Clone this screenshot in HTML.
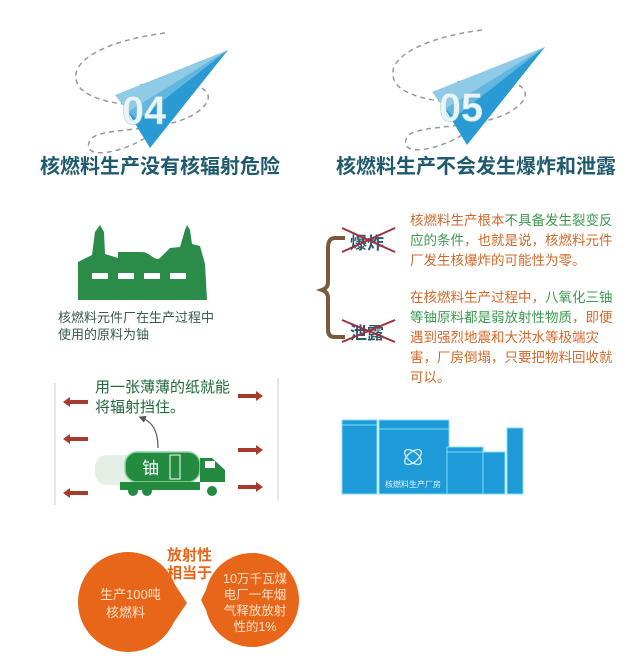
<!DOCTYPE html><html><head><meta charset="utf-8"><style>
body{margin:0;background:#fff;width:640px;height:655px;overflow:hidden;font-family:"Liberation Sans","Noto Sans CJK SC",sans-serif}
</style></head><body>
<svg width="640" height="655" viewBox="0 0 640 655" xmlns="http://www.w3.org/2000/svg" style="font-family:'Liberation Sans','Noto Sans CJK SC',sans-serif">
<defs><marker id="ar" markerWidth="6" markerHeight="6" refX="3" refY="3" orient="auto"><path d="M0,0L6,3L0,6z" fill="#555"/></marker></defs>
<g>
<path d="M165,33 C110,40 65,60 78,85 C90,105 150,110 175,100" fill="none" stroke="#999" stroke-width="1.5" stroke-dasharray="5,4"/>
<path d="M140,85 C190,75 225,90 200,110 C170,135 100,125 90,140 C80,160 120,155 150,135" fill="none" stroke="#999" stroke-width="1.5" stroke-dasharray="5,4"/>
<polygon points="115,95 228,50 128,112" fill="#8fcbe6"/>
<polygon points="128,112 228,50 150,148" fill="#2a9ad4"/>
<polygon points="128,112 228,50 138,120" fill="#62b6df"/>
<text x="122" y="124" font-size="40" font-weight="bold" fill="#e9f4f8" stroke="#9cc" stroke-width="0.5" textLength="44" lengthAdjust="spacingAndGlyphs">04</text>
</g>
<g transform="translate(317,-3)">
<path d="M165,33 C110,40 65,60 78,85 C90,105 150,110 175,100" fill="none" stroke="#999" stroke-width="1.5" stroke-dasharray="5,4"/>
<path d="M140,85 C190,75 225,90 200,110 C170,135 100,125 90,140 C80,160 120,155 150,135" fill="none" stroke="#999" stroke-width="1.5" stroke-dasharray="5,4"/>
<polygon points="115,95 228,50 128,112" fill="#8fcbe6"/>
<polygon points="128,112 228,50 150,148" fill="#2a9ad4"/>
<polygon points="128,112 228,50 138,120" fill="#62b6df"/>
<text x="122" y="124" font-size="40" font-weight="bold" fill="#e9f4f8" stroke="#9cc" stroke-width="0.5" textLength="44" lengthAdjust="spacingAndGlyphs">05</text>
</g>
<text x="40" y="173" font-size="20" font-weight="bold" fill="#1f5a6e">核燃料生产没有核辐射危险</text>
<text x="336" y="173" font-size="20" font-weight="bold" fill="#1f5a6e">核燃料生产不会发生爆炸和泄露</text>
<path d="M78,300 L78,262 L92,255 L95,232 L100,225 L104,232 L105,254 L118,258 L118,252 L142,252 C150,252 155,262 160,258 L170,248 L180,247 L185,230 L187,225 L190,230 L192,244 L200,246 L205,264 L207,300 Z" fill="#2a8c48"/>
<rect x="92" y="273" width="16" height="6" fill="#fff"/><rect x="118" y="273" width="16" height="6" fill="#fff"/><rect x="144" y="273" width="16" height="6" fill="#fff"/><rect x="170" y="273" width="16" height="6" fill="#fff"/>
<text x="58" y="322" font-size="13" fill="#3a5a4a">核燃料元件厂在生产过程中</text>
<text x="58" y="339" font-size="13" fill="#3a5a4a">使用的原料为铀</text>
<line x1="55" y1="383" x2="55" y2="505" stroke="#ccc"/><line x1="278" y1="378" x2="278" y2="500" stroke="#ccc"/>
<text x="95" y="392" font-size="15" fill="#1e6a3a">用一张薄薄的纸就能</text>
<text x="95" y="412" font-size="15" fill="#1e6a3a">将辐射挡住。</text>
<g fill="#a83a2c">
<rect x="68" y="400" width="20" height="4"/><polygon points="63,402 70,397 70,407"/>
<rect x="68" y="437" width="20" height="4"/><polygon points="63,439 70,434 70,444"/>
<rect x="68" y="491" width="20" height="4"/><polygon points="63,493 70,488 70,498"/>
<rect x="238" y="394" width="20" height="4"/><polygon points="263,396 256,391 256,401"/>
<rect x="238" y="448" width="20" height="4"/><polygon points="263,450 256,445 256,455"/>
<rect x="238" y="485" width="20" height="4"/><polygon points="263,487 256,482 256,492"/>
</g>
<path d="M158,448 C158,430 152,422 142,418" fill="none" stroke="#555" stroke-width="1.2" marker-end="url(#ar)"/>
<rect x="95" y="455" width="50" height="30" rx="12" fill="#e4efe6"/>
<rect x="125" y="452" width="75" height="30" rx="12" fill="#238a40" stroke="#8ed9a0" stroke-width="1.5"/>
<text x="142" y="474" font-size="17" fill="#fff">铀</text>
<rect x="170" y="455" width="10" height="24" fill="none" stroke="#fff" stroke-width="1"/>
<path d="M120,482 L225,482 L225,470 L212,458 L200,458 L200,490 L120,490 Z" fill="#238a40"/>
<rect x="205" y="461" width="10" height="7" fill="#fff"/>
<circle cx="133" cy="491" r="5" fill="#238a40"/><circle cx="147" cy="491" r="5" fill="#238a40"/><circle cx="212" cy="491" r="5" fill="#238a40"/>
<path d="M345,238 L335,238 Q328,238 328,248 L328,282 Q328,288 322,290 Q328,292 328,298 L328,330 Q328,337 335,337 L345,337" fill="none" stroke="#7a5a3a" stroke-width="4"/>
<text x="350" y="249" font-size="17" font-weight="bold" fill="#2b5a6a">爆炸</text>
<text x="350" y="339" font-size="17" font-weight="bold" fill="#2b5a6a">泄露</text>
<line x1="342" y1="252" x2="395" y2="228" stroke="#a03040" stroke-width="2"/><line x1="342" y1="228" x2="395" y2="252" stroke="#a03040" stroke-width="2"/>
<line x1="342" y1="342" x2="395" y2="320" stroke="#a03040" stroke-width="2"/><line x1="342" y1="320" x2="395" y2="342" stroke="#a03040" stroke-width="2"/>
<g font-size="13.5" fill="#d2692a">
<text x="410" y="225">核燃料生产根本<tspan fill="#3c9a50">不具备发生裂变反</tspan></text>
<text x="410" y="245"><tspan fill="#3c9a50">应的条件</tspan>，也就是说，核燃料元件</text>
<text x="410" y="265">厂发生核爆炸的可能性为零。</text>
<text x="410" y="302">在核燃料生产过程中，<tspan fill="#3c9a50">八氧化三铀</tspan></text>
<text x="410" y="322"><tspan fill="#3c9a50">等铀原料都是弱放射性物质</tspan>，即便</text>
<text x="410" y="342">遇到强烈地震和大洪水等极端灾</text>
<text x="410" y="362">害，厂房倒塌，只要把物料回收就</text>
<text x="410" y="382">可以。</text>
</g>
<g fill="#1e9ad8" stroke="#7fe0f5" stroke-width="1">
<rect x="342" y="420" width="35" height="74"/><rect x="379" y="420" width="70" height="74"/>
<rect x="447" y="447" width="36" height="47"/><rect x="483" y="452" width="22" height="42"/><rect x="507" y="428" width="16" height="66"/>
</g>
<line x1="342" y1="425" x2="377" y2="425" stroke="#7fe0f5"/><line x1="379" y1="429" x2="449" y2="429" stroke="#7fe0f5"/><line x1="447" y1="452" x2="505" y2="452" stroke="#7fe0f5"/>
<ellipse cx="413" cy="457" rx="10" ry="5" fill="none" stroke="#cdeefa" stroke-width="1.3" transform="rotate(40 413 457)"/>
<ellipse cx="413" cy="457" rx="10" ry="5" fill="none" stroke="#cdeefa" stroke-width="1.3" transform="rotate(-40 413 457)"/>
<text x="385" y="487" font-size="8" fill="#e0f4fb">核燃料生产厂房</text>
<circle cx="128" cy="602" r="50" fill="#e8661a"/>
<polygon points="172,580 187,603 172,625" fill="#e8661a"/>
<circle cx="252" cy="600" r="47" fill="#e8661a"/>
<polygon points="212,578 201,600 212,622" fill="#e8661a"/>
<text x="100" y="599" font-size="13" fill="#fde2c8">生产100吨</text>
<text x="106" y="617" font-size="13" fill="#fde2c8">核燃料</text>
<g font-size="12.5" fill="#fde2c8" text-anchor="middle"><text x="255" y="583">10万千瓦煤</text><text x="255" y="599">电厂一年烟</text><text x="255" y="615">气释放放射</text><text x="255" y="631">性的1%</text></g>
<text x="167" y="560" font-size="15" font-weight="bold" fill="#e8661a">放射性</text>
<text x="167" y="578" font-size="15" font-weight="bold" fill="#e8661a">相当于</text>
</svg>
</body></html>
